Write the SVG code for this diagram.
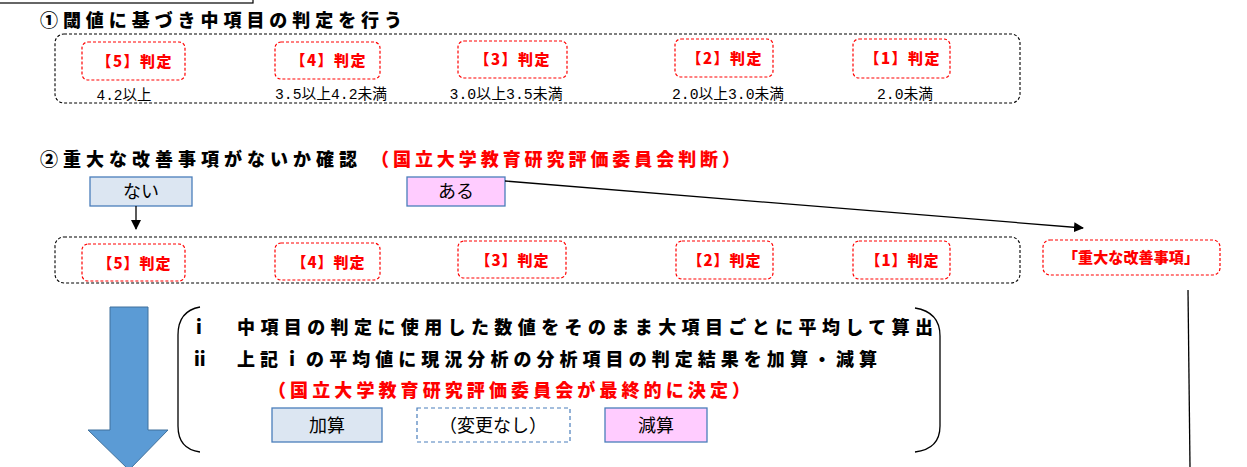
<svg xmlns="http://www.w3.org/2000/svg" width="1247" height="467" viewBox="0 0 1247 467">
<defs>
<style>
.bg{fill:#ffffff}
.frame{fill:none;stroke:#000;stroke-width:1.1;stroke-dasharray:3 2}
.rbox{fill:#fff;stroke:#ff0000;stroke-width:1.2;stroke-dasharray:3 2}
.rlab{font-family:"Noto Sans CJK JP",sans-serif;font-weight:900;font-size:15px;fill:#ff0000;text-anchor:middle}
.num{font-family:"Liberation Mono","Noto Sans CJK JP",monospace;font-size:15px;fill:#000;text-anchor:middle}
.head{font-family:"Noto Sans CJK JP",sans-serif;font-weight:900;font-size:18px;fill:#000}
.headr{font-family:"Noto Sans CJK JP",sans-serif;font-weight:900;font-size:18px;fill:#ff0000}
.bbox{fill:#dce6f2;stroke:#4a7ebb;stroke-width:1.3}
.pbox{fill:#ffccff;stroke:#4a7ebb;stroke-width:1.3}
.dbox{fill:#fff;stroke:#4a7ebb;stroke-width:1.2;stroke-dasharray:4 3}
.btxt{font-family:"Noto Sans CJK JP",sans-serif;font-size:18px;fill:#000;text-anchor:middle}
.conn{fill:none;stroke:#000;stroke-width:1.3}
.brace{fill:none;stroke:#000;stroke-width:1.3}
</style>
<marker id="ah" markerWidth="10" markerHeight="10" refX="9" refY="5" orient="auto" markerUnits="userSpaceOnUse">
<path d="M0,0 L10,5 L0,10 Z" fill="#000"/>
</marker>
</defs>
<rect class="bg" x="0" y="0" width="1247" height="467"/>

<g id="top-box">
<rect x="-10" y="-30" width="263" height="33" fill="none" stroke="#000" stroke-width="1.2"/>
</g>

<g id="step1-title">
<text class="head" x="40" y="27" textLength="362" lengthAdjust="spacing">①閾値に基づき中項目の判定を行う</text>
</g>

<g id="step1-frame">
<rect class="frame" x="55" y="34" width="965" height="69" rx="9"/>
</g>

<g id="r1-5"><rect class="rbox" x="82" y="42" width="103" height="38" rx="6"/><text class="rlab" x="134" y="67" textLength="75" lengthAdjust="spacing">【5】判定</text></g>
<g id="r1-4"><rect class="rbox" x="275" y="42" width="105" height="37" rx="6"/><text class="rlab" x="328" y="66" textLength="75" lengthAdjust="spacing">【4】判定</text></g>
<g id="r1-3"><rect class="rbox" x="458" y="41" width="109" height="37" rx="6"/><text class="rlab" x="512" y="65" textLength="75" lengthAdjust="spacing">【3】判定</text></g>
<g id="r1-2"><rect class="rbox" x="675" y="39" width="98" height="38" rx="6"/><text class="rlab" x="724" y="64" textLength="75" lengthAdjust="spacing">【2】判定</text></g>
<g id="r1-1"><rect class="rbox" x="853" y="39" width="97" height="39" rx="6"/><text class="rlab" x="902" y="64" textLength="75" lengthAdjust="spacing">【1】判定</text></g>

<g id="thresholds">
<text class="num" x="124" y="100" textLength="55" lengthAdjust="spacingAndGlyphs">4.2以上</text>
<text class="num" x="331" y="99" textLength="112" lengthAdjust="spacingAndGlyphs">3.5以上4.2未満</text>
<text class="num" x="506" y="99" textLength="113" lengthAdjust="spacingAndGlyphs">3.0以上3.5未満</text>
<text class="num" x="728" y="99" textLength="112" lengthAdjust="spacingAndGlyphs">2.0以上3.0未満</text>
<text class="num" x="905" y="99" textLength="56" lengthAdjust="spacingAndGlyphs">2.0未満</text>
</g>

<g id="step2-title">
<text class="head" x="40" y="166" textLength="317" lengthAdjust="spacing">②重大な改善事項がないか確認</text>
<text class="headr" x="371" y="166" textLength="369" lengthAdjust="spacing">（国立大学教育研究評価委員会判断）</text>
</g>

<g id="nai"><rect class="bbox" x="90" y="177" width="102" height="29"/><text class="btxt" x="141" y="198">ない</text></g>
<g id="aru"><rect class="pbox" x="407" y="177" width="98" height="29"/><text class="btxt" x="456" y="198">ある</text></g>

<g id="step2-frame">
<rect class="frame" x="55" y="237" width="965" height="46" rx="9"/>
</g>

<g id="r2-5"><rect class="rbox" x="82" y="244" width="103" height="37" rx="6"/><text class="rlab" x="134" y="269" textLength="73" lengthAdjust="spacing">【5】判定</text></g>
<g id="r2-4"><rect class="rbox" x="275" y="243" width="105" height="37" rx="6"/><text class="rlab" x="328" y="268" textLength="73" lengthAdjust="spacing">【4】判定</text></g>
<g id="r2-3"><rect class="rbox" x="458" y="241" width="108" height="37" rx="6"/><text class="rlab" x="512" y="266" textLength="73" lengthAdjust="spacing">【3】判定</text></g>
<g id="r2-2"><rect class="rbox" x="676" y="241" width="97" height="38" rx="6"/><text class="rlab" x="724" y="266" textLength="73" lengthAdjust="spacing">【2】判定</text></g>
<g id="r2-1"><rect class="rbox" x="853" y="241" width="97" height="38" rx="6"/><text class="rlab" x="902" y="266" textLength="73" lengthAdjust="spacing">【1】判定</text></g>

<g id="serious"><rect class="rbox" x="1043" y="240" width="177" height="35" rx="7"/><text class="rlab" x="1131" y="263" textLength="136" lengthAdjust="spacing">「重大な改善事項」</text></g>

<g id="connectors">
<line class="conn" x1="136" y1="206" x2="136" y2="229" marker-end="url(#ah)"/>
<line class="conn" x1="505" y1="181" x2="1083" y2="228" marker-end="url(#ah)"/>
<line class="conn" x1="1188" y1="290" x2="1190" y2="467"/>
</g>

<g id="big-arrow">
<polygon points="110,307 148,307 148,430 168,430 129,470 88,430 110,430" fill="#5b9bd5" stroke="#41719c" stroke-width="1"/>
</g>

<g id="calc">
<path class="brace" d="M200,307 Q178,311 178,335 L178,426 Q178,449 200,452"/>
<path class="brace" d="M915,308 Q940,312 940,336 L940,426 Q940,449 915,452"/>
<text class="head" x="196" y="334">i</text>
<text class="head" x="237" y="334" textLength="696" lengthAdjust="spacing">中項目の判定に使用した数値をそのまま大項目ごとに平均して算出</text>
<text class="head" x="194" y="366">ii</text>
<text class="head" x="237" y="366" textLength="640" lengthAdjust="spacing">上記ｉの平均値に現況分析の分析項目の判定結果を加算・減算</text>
<text class="headr" x="268" y="397" textLength="482" lengthAdjust="spacing">（国立大学教育研究評価委員会が最終的に決定）</text>
</g>

<g id="kasan"><rect class="bbox" x="272" y="408" width="110" height="34"/><text class="btxt" x="327" y="432">加算</text></g>
<g id="henkou"><rect class="dbox" x="417" y="408" width="153" height="34"/><text class="btxt" x="493" y="432">（変更なし）</text></g>
<g id="gensan"><rect class="pbox" x="605" y="408" width="102" height="34"/><text class="btxt" x="656" y="432">減算</text></g>
</svg>
